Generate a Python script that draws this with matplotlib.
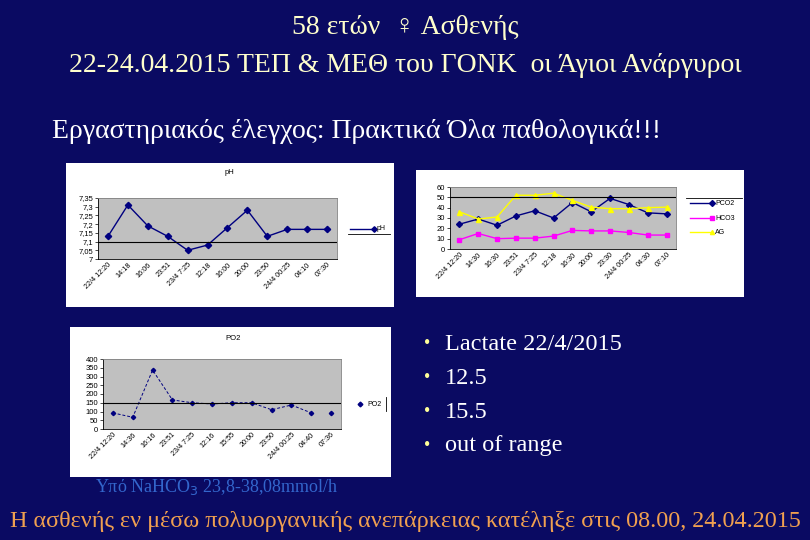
import matplotlib.pyplot as plt
from matplotlib.lines import Line2D
from matplotlib.patches import Rectangle

# Data
times_ph = ["22/4 12:20", "14:18", "16:06", "23:51", "23/4 7:25", "12:18",
            "16:00", "20:00", "23:50", "24/4 00:25", "04:10", "07:30"]
times_gas = ["22/4 12:20", "14:30", "16:30", "23:51", "23/4 7:25", "12:18",
             "16:30", "20:00", "23:30", "24/4 00:25", "04:30", "07:10"]
times_po2 = ["22/4 12:20", "14:36", "16:16", "23:51", "23/4 7:25", "12:16",
             "15:55", "20:00", "23:50", "24/4 00:25", "04:40", "07:36"]

ph = [7.13, 7.31, 7.19, 7.13, 7.05, 7.08, 7.18, 7.28, 7.13, 7.17, 7.17, 7.17]
pco2 = [24, 29, 23, 32, 37, 30, 45, 36, 49, 43, 35, 34]
hco3 = [9, 15, 10, 10.5, 10.5, 12.5, 18, 17.5, 17.5, 16, 13.5, 13.5]
ag = [36, 29, 31, 52, 52, 54, 47, 40.5, 39, 39, 40, 40.5]
po2 = [92, 67, 337, 166, 150, 143, 150, 150, 110, 137, 92, 92]

bullets = ["Lactate 22/4/2015", "12.5", "15.5", "out of range"]

W, H = 810, 540
BG = "#0a0a62"
SERIF = ["Liberation Serif", "DejaVu Serif"]
SANS = ["Liberation Sans", "DejaVu Sans"]

fig = plt.figure(figsize=(W / 100, H / 100), dpi=100, facecolor=BG)


def fx(x):
    return x / W


def fy(y):
    return 1 - y / H


def box(x0, y0, x1, y1):
    fig.patches.append(Rectangle((fx(x0), fy(y1)), fx(x1 - x0), (y1 - y0) / H,
                                 transform=fig.transFigure, facecolor="white",
                                 edgecolor="none", zorder=-5))


def plot_area(x0, y0, x1, y1):
    ax = fig.add_axes([fx(x0), fy(y1), fx(x1 - x0), (y1 - y0) / H])
    ax.set_facecolor("#c0c0c0")
    for s in ["top", "right"]:
        ax.spines[s].set_color("#808080")
        ax.spines[s].set_linewidth(0.6)
    for s in ["left", "bottom"]:
        ax.spines[s].set_color("black")
        ax.spines[s].set_linewidth(0.6)
    ax.tick_params(axis="both", labelsize=5.5, length=2, width=0.5, pad=1.5,
                   colors="black")
    ax.set_xlim(-0.5, 11.5)
    return ax


def cat_labels(ax, labels):
    ax.set_xticks(range(len(labels)))
    ax.set_xticklabels(labels, rotation=45, ha="right", rotation_mode="anchor",
                       fontsize=5.2, family=SANS)
    ax.tick_params(axis="x", length=0)


def comma(v):
    s = f"{v:.2f}".rstrip("0").rstrip(".")
    return s.replace(".", ",")


# pH chart
box(66, 163, 394, 307)
ax1 = plot_area(98, 198, 337, 259)
ax1.plot(range(12), ph, color="#000080", lw=1.0, marker="D", ms=3.2)
ax1.axhline(7.1, color="black", lw=0.8)
ax1.set_ylim(7.0, 7.35)
yt = [7.0 + 0.05 * i for i in range(8)]
ax1.set_yticks(yt)
ax1.set_yticklabels([comma(v) for v in yt], family=SANS)
cat_labels(ax1, times_ph)
fig.text(fx(229), fy(172), "pH", ha="center", va="center", fontsize=5.5,
         family=SANS, color="black")
fig.add_artist(Line2D([fx(350), fx(374)], [fy(229), fy(229)], color="#000080",
                      lw=1.0, marker="D", ms=2.8, markevery=[1]))
fig.text(fx(377), fy(229), "pH", ha="left", va="center", fontsize=5,
         family=SANS, color="black")
fig.add_artist(Line2D([fx(348), fx(390)], [fy(234), fy(234)], color="black", lw=0.6))

# PCO2 / HCO3 / AG chart
box(416, 170, 744, 297)
ax2 = plot_area(450, 187, 676, 249)
ax2.plot(range(12), pco2, color="#000080", lw=1.0, marker="D", ms=3.0)
ax2.plot(range(12), hco3, color="#ff00ff", lw=1.0, marker="s", ms=3.4)
ax2.plot(range(12), ag, color="#ffff00", lw=1.0, marker="^", ms=3.6)
ax2.axhline(50, color="black", lw=0.8)
ax2.set_ylim(0, 60)
ax2.set_yticks(range(0, 61, 10))
ax2.set_yticklabels([str(v) for v in range(0, 61, 10)], family=SANS)
cat_labels(ax2, times_gas)
fig.add_artist(Line2D([fx(686), fx(742)], [fy(198), fy(198)], color="black", lw=0.6))
for y, name, col, mk in [(203, "PCO2", "#000080", "D"), (218, "HCO3", "#ff00ff", "s"),
                         (232, "AG", "#ffff00", "^")]:
    fig.add_artist(Line2D([fx(690), fx(712)], [fy(y), fy(y)], color=col, lw=1.0,
                          marker=mk, ms=3.0, markevery=[1]))
    fig.text(fx(715), fy(y), name, ha="left", va="center", fontsize=5,
             family=SANS, color="black")

# PO2 chart
box(70, 327, 391, 477)
ax3 = plot_area(103, 359, 341, 429)
ax3.plot(range(11), po2[:11], color="#000080", lw=0.7, ls=(0, (3, 2)))
ax3.plot(range(12), po2, color="#000080", lw=0, marker="D", ms=2.2)
ax3.axhline(150, color="black", lw=0.8)
ax3.set_ylim(0, 400)
ax3.set_yticks(range(0, 401, 50))
ax3.set_yticklabels([str(v) for v in range(0, 401, 50)], family=SANS)
cat_labels(ax3, times_po2)
fig.text(fx(233), fy(338), "PO2", ha="center", va="center", fontsize=5.5,
         family=SANS, color="black")
fig.add_artist(Line2D([fx(360)], [fy(404)], color="#000080", lw=0, marker="D", ms=2.4))
fig.text(fx(367), fy(404), "PO2", ha="left", va="center", fontsize=5,
         family=SANS, color="black")
fig.add_artist(Line2D([fx(386), fx(386)], [fy(397), fy(411)], color="black", lw=0.6))

# Slide text
fig.text(0.5, fy(28), "58 ετών  ♀ Ασθενής", ha="center", va="center",
         fontsize=20, color="#ffffcc", family=SERIF)
fig.text(0.5, fy(66), "22-24.04.2015 ΤΕΠ & ΜΕΘ του ΓΟΝΚ  οι Άγιοι Ανάργυροι",
         ha="center", va="center", fontsize=20, color="#ffffcc", family=SERIF)
fig.text(fx(52), fy(132), "Εργαστηριακός έλεγχος: Πρακτικά Όλα παθολογικά!!!",
         ha="left", va="center", fontsize=20, color="white", family=SERIF)

for i, t in enumerate(bullets):
    y = 344 + 34 * i
    fig.text(fx(427), fy(y), "•", ha="center", va="center", fontsize=13,
             color="#ffff99", family=SERIF)
    fig.text(fx(445), fy(y), t, ha="left", va="center", fontsize=17.5,
             color="white", family=SERIF)

fig.text(fx(217), fy(487), "Υπό NaHCO$_3$ 23,8-38,08mmol/h", ha="center",
         va="center", fontsize=13, color="#3366cc", family=SERIF)
fig.text(0.5, fy(521),
         "Η ασθενής εν μέσω πολυοργανικής ανεπάρκειας κατέληξε στις 08.00, 24.04.2015",
         ha="center", va="center", fontsize=17.4, color="#f0a050", family=SERIF)

fig.savefig("out.png", dpi=100, facecolor=BG)
